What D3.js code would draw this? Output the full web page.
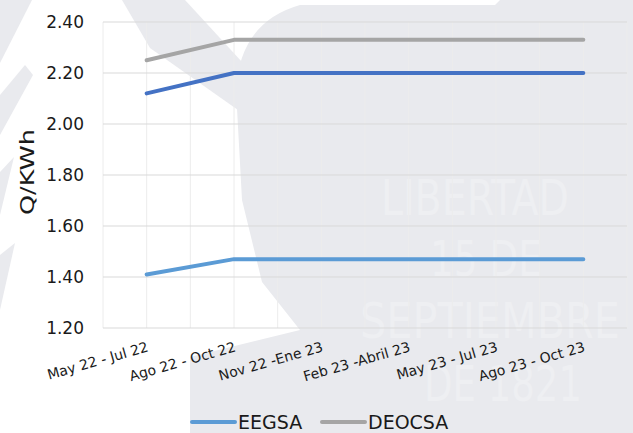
<!DOCTYPE html>
<html>
<head>
<meta charset="utf-8">
<script src="https://cdn.jsdelivr.net/npm/d3@7"></script>
<style>
  html, body { margin: 0; padding: 0; background: #fff; }
  svg { display: block; font-family: "DejaVu Sans", sans-serif; }
</style>
</head>
<body>
<svg id="chart" width="633" height="433"></svg>
<script>
// data
const categories = [
  'May 22 - Jul 22',
  'Ago 22 - Oct 22',
  'Nov 22 -Ene 23',
  'Feb 23 -Abril 23',
  'May 23 - Jul 23',
  'Ago 23 - Oct 23'
];
const eegsa = [1.41, 1.47, 1.47, 1.47, 1.47, 1.47];
const deorsa = [2.12, 2.20, 2.20, 2.20, 2.20, 2.20];
const deocsa = [2.25, 2.33, 2.33, 2.33, 2.33, 2.33];
const yTicks = [1.20, 1.40, 1.60, 1.80, 2.00, 2.20, 2.40];
const legendNames = ['EEGSA', 'DEOCSA'];
const watermarkWords = ['LIBERTAD', '15 DE', 'SEPTIEMBRE', 'DE 1821'];

const series = [
  {name: 'EEGSA', values: eegsa, color: '#5b9bd5'},
  {name: 'DEORSA', values: deorsa, color: '#4472c4'},
  {name: 'DEOCSA', values: deocsa, color: '#a5a5a5'}
];

const svg = d3.select('#chart');
const margin = {top: 22, right: 6, bottom: 105, left: 103};
const width = 633 - margin.left - margin.right;
const height = 433 - margin.top - margin.bottom;

// faint watermark behind the chart
const bg = svg.append('g').attr('class', 'watermark').attr('fill', '#e9eaee');
[
  'M0,0 L32,0 L0,63 Z',
  'M0,95 L25,65 L33,75 L0,135 Z',
  'M0,172 L14,157 L0,215 Z',
  'M0,255 L15,243 L0,310 Z',
  'M122,0 L185,0 L242,62 L238,110 L150,48 Z',
  'M300,5 L495,5 L500,0 L633,0 L633,433 L190,433 L190,357 L300,330 L262,282 L242,200 L236,90 Q240,22 300,5 Z'
].forEach((d) => bg.append('path').attr('d', d));

const wm = svg.append('g')
  .attr('fill', '#eeeff2')
  .attr('font-family', '"Liberation Sans Narrow", "DejaVu Sans Condensed", sans-serif')
  .attr('text-anchor', 'middle');
const wmPos = [[475, 215, 188], [486, 276, 112], [490, 338, 260], [503, 401, 158]];
watermarkWords.forEach((w, i) => {
  wm.append('text')
    .attr('x', wmPos[i][0])
    .attr('y', wmPos[i][1])
    .attr('font-size', 50)
    .attr('textLength', wmPos[i][2])
    .attr('lengthAdjust', 'spacingAndGlyphs')
    .text(w);
});

const g = svg.append('g')
  .attr('transform', `translate(${margin.left},${margin.top})`);

const x = d3.scalePoint()
  .domain(categories)
  .range([0, width])
  .padding(0.5);

const y = d3.scaleLinear()
  .domain([1.2, 2.4])
  .range([height, 0]);

// vertical grid at band edges and centres
const step = x.step() / 2;
const vLines = d3.range(0, categories.length * 2 + 1).map((i) => i * step);
g.append('g')
  .selectAll('line')
  .data(vLines)
  .join('line')
  .attr('x1', (d) => d)
  .attr('x2', (d) => d)
  .attr('y1', 0)
  .attr('y2', height)
  .attr('stroke', '#ececec')
  .attr('stroke-width', 1);

// horizontal grid
g.append('g')
  .selectAll('line')
  .data(yTicks)
  .join('line')
  .attr('x1', 0)
  .attr('x2', width)
  .attr('y1', (d) => y(d))
  .attr('y2', (d) => y(d))
  .attr('stroke', '#d9d9d9')
  .attr('stroke-width', 1);

// y axis labels
const yAxis = d3.axisLeft(y)
  .tickValues(yTicks)
  .tickFormat(d3.format('.2f'))
  .tickSize(0)
  .tickPadding(19);

g.append('g')
  .attr('class', 'y axis')
  .call(yAxis)
  .call((s) => s.select('.domain').remove())
  .selectAll('text')
  .attr('font-family', '"DejaVu Sans", sans-serif')
  .attr('font-size', 17)
  .attr('fill', '#1a1a1a');

// x axis labels, tilted
const xAxis = d3.axisBottom(x).tickSize(0).tickPadding(0);
g.append('g')
  .attr('class', 'x axis')
  .attr('transform', `translate(0,${height})`)
  .call(xAxis)
  .call((s) => s.select('.domain').remove())
  .selectAll('text')
  .attr('font-family', '"DejaVu Sans", sans-serif')
  .attr('font-size', 14)
  .attr('fill', '#1a1a1a')
  .attr('text-anchor', 'end')
  .attr('dy', 0)
  .attr('transform', 'translate(2,23) rotate(-16)');

// series lines
const line = d3.line()
  .x((d, i) => x(categories[i]))
  .y((d) => y(d));

g.append('g')
  .selectAll('path')
  .data(series)
  .join('path')
  .attr('d', (d) => line(d.values))
  .attr('fill', 'none')
  .attr('stroke', (d) => d.color)
  .attr('stroke-width', 4)
  .attr('stroke-linecap', 'round')
  .attr('stroke-linejoin', 'round');

// y axis title
svg.append('text')
  .attr('transform', 'translate(34,172) rotate(-90)')
  .attr('text-anchor', 'middle')
  .attr('font-size', 20)
  .attr('textLength', 86)
  .attr('lengthAdjust', 'spacingAndGlyphs')
  .attr('fill', '#1a1a1a')
  .text('Q/KWh');

// legend
const legendItems = series.filter((s) => legendNames.includes(s.name));
const legendX = [192, 322];
const legend = svg.append('g').attr('class', 'legend');
const item = legend.selectAll('g')
  .data(legendItems)
  .join('g')
  .attr('transform', (d, i) => `translate(${legendX[i]},422)`);

item.append('line')
  .attr('x1', 0)
  .attr('x2', 43)
  .attr('stroke', (d) => d.color)
  .attr('stroke-width', 4)
  .attr('stroke-linecap', 'round');

item.append('text')
  .attr('x', 46)
  .attr('y', 7)
  .attr('font-size', 19)
  .attr('fill', '#1a1a1a')
  .text((d) => d.name);
</script>
</body>
</html>
